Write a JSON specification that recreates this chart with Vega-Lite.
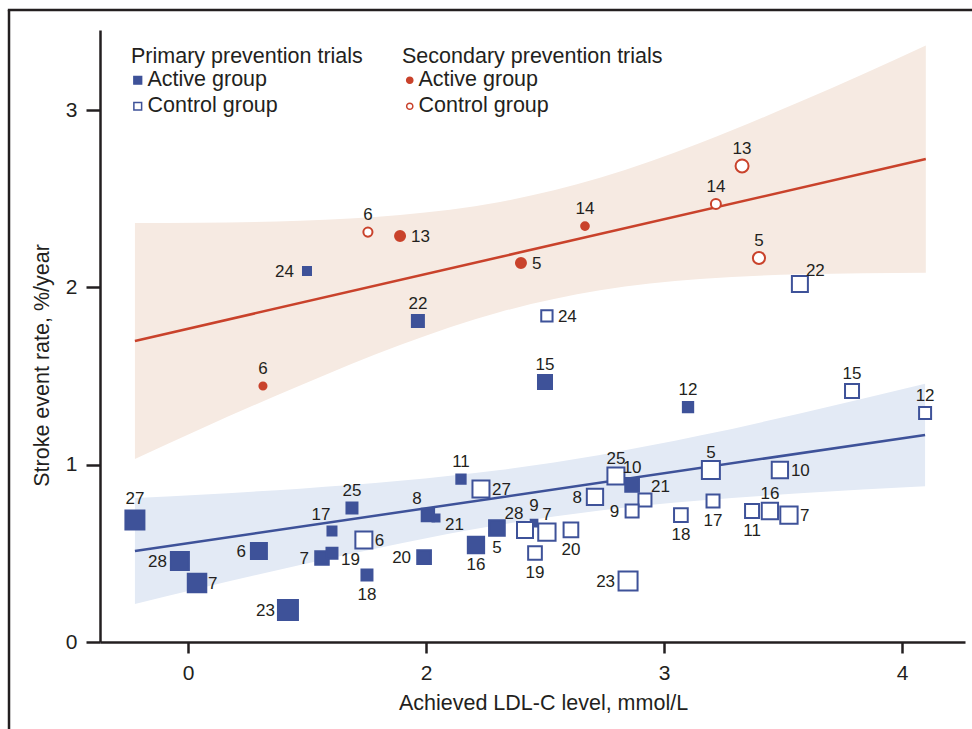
{
  "$schema": "https://vega.github.io/schema/vega-lite/v6.json",
  "width": 865,
  "height": 612,
  "autosize": {"type": "none"},
  "padding": {"left": 100, "top": 30, "right": 7, "bottom": 87},
  "background": "white",
  "config": {
    "view": {"stroke": null},
    "font": "Liberation Sans",
    "axis": {
      "domainColor": "#231f20", "domainWidth": 2.5, "tickColor": "#231f20", "tickWidth": 2.5,
      "labelFont": "Liberation Sans", "labelFontSize": 21, "labelColor": "#231f20",
      "titleFont": "Liberation Sans", "titleFontSize": 21.5, "titleFontWeight": "normal", "titleColor": "#231f20",
      "grid": false, "labelFlush": false, "labelOverlap": false, "labelBound": false
    },
    "legend": {
      "titleFont": "Liberation Sans", "titleFontSize": 21.5, "titleFontWeight": "normal", "titleColor": "#231f20",
      "labelFont": "Liberation Sans", "labelFontSize": 21.5, "labelColor": "#231f20",
      "titleLimit": 500, "labelLimit": 300, "padding": 0
    }
  },
  "datasets": {
    "pts": [
      {"trial": "6", "type": "Secondary", "arm": "Active group", "ldl": 1.315, "rate": 1.444, "w": 3.54, "pos": "t"},
      {"trial": "13", "type": "Secondary", "arm": "Active group", "ldl": 1.891, "rate": 2.290, "w": 5.0, "pos": "r"},
      {"trial": "5", "type": "Secondary", "arm": "Active group", "ldl": 2.399, "rate": 2.138, "w": 5.0, "pos": "r"},
      {"trial": "14", "type": "Secondary", "arm": "Active group", "ldl": 2.668, "rate": 2.346, "w": 3.85, "pos": "t"},
      {"trial": "6", "type": "Secondary", "arm": "Control group", "ldl": 1.756, "rate": 2.312, "w": 4.56, "pos": "t"},
      {"trial": "14", "type": "Secondary", "arm": "Control group", "ldl": 3.218, "rate": 2.470, "w": 5.0, "pos": "t"},
      {"trial": "13", "type": "Secondary", "arm": "Control group", "ldl": 3.328, "rate": 2.685, "w": 6.5, "pos": "t"},
      {"trial": "5", "type": "Secondary", "arm": "Control group", "ldl": 3.399, "rate": 2.166, "w": 6.07, "pos": "t"},
      {"trial": "27", "type": "Primary", "arm": "Active group", "ldl": 0.777, "rate": 0.688, "w": 9.5, "pos": "T"},
      {"trial": "28", "type": "Primary", "arm": "Active group", "ldl": 0.966, "rate": 0.457, "w": 9.0, "pos": "l"},
      {"trial": "7", "type": "Primary", "arm": "Active group", "ldl": 1.038, "rate": 0.333, "w": 9.25, "pos": "r"},
      {"trial": "6", "type": "Primary", "arm": "Active group", "ldl": 1.298, "rate": 0.513, "w": 8.0, "pos": "l"},
      {"trial": "23", "type": "Primary", "arm": "Active group", "ldl": 1.420, "rate": 0.180, "w": 10.0, "pos": "l"},
      {"trial": "17", "type": "Primary", "arm": "Active group", "ldl": 1.605, "rate": 0.626, "w": 4.5, "pos": "tl"},
      {"trial": "25", "type": "Primary", "arm": "Active group", "ldl": 1.689, "rate": 0.756, "w": 5.5, "pos": "t"},
      {"trial": "7", "type": "Primary", "arm": "Active group", "ldl": 1.563, "rate": 0.474, "w": 6.75, "pos": "l"},
      {"trial": "19", "type": "Primary", "arm": "Active group", "ldl": 1.605, "rate": 0.500, "w": 5.5, "pos": "br"},
      {"trial": "18", "type": "Primary", "arm": "Active group", "ldl": 1.752, "rate": 0.378, "w": 5.5, "pos": "b"},
      {"trial": "8", "type": "Primary", "arm": "Active group", "ldl": 2.008, "rate": 0.716, "w": 6.2, "pos": "tl"},
      {"trial": "21", "type": "Primary", "arm": "Active group", "ldl": 2.042, "rate": 0.699, "w": 3.5, "pos": "br"},
      {"trial": "20", "type": "Primary", "arm": "Active group", "ldl": 1.992, "rate": 0.479, "w": 6.85, "pos": "l"},
      {"trial": "11", "type": "Primary", "arm": "Active group", "ldl": 2.147, "rate": 0.919, "w": 4.65, "pos": "t"},
      {"trial": "16", "type": "Primary", "arm": "Active group", "ldl": 2.210, "rate": 0.547, "w": 8.15, "pos": "b"},
      {"trial": "5", "type": "Primary", "arm": "Active group", "ldl": 2.298, "rate": 0.643, "w": 7.85, "pos": "b"},
      {"trial": "9", "type": "Primary", "arm": "Active group", "ldl": 2.454, "rate": 0.671, "w": 3.35, "pos": "t"},
      {"trial": "10", "type": "Primary", "arm": "Active group", "ldl": 2.866, "rate": 0.886, "w": 6.85, "pos": "t"},
      {"trial": "12", "type": "Primary", "arm": "Active group", "ldl": 3.101, "rate": 1.325, "w": 5.15, "pos": "t"},
      {"trial": "15", "type": "Primary", "arm": "Active group", "ldl": 2.500, "rate": 1.466, "w": 7.0, "pos": "t"},
      {"trial": "22", "type": "Primary", "arm": "Active group", "ldl": 1.966, "rate": 1.810, "w": 6.0, "pos": "t"},
      {"trial": "24", "type": "Primary", "arm": "Active group", "ldl": 1.500, "rate": 2.093, "w": 4.0, "pos": "l"},
      {"trial": "6", "type": "Primary", "arm": "Control group", "ldl": 1.739, "rate": 0.575, "w": 8.5, "pos": "r"},
      {"trial": "27", "type": "Primary", "arm": "Control group", "ldl": 2.231, "rate": 0.863, "w": 8.5, "pos": "r"},
      {"trial": "28", "type": "Primary", "arm": "Control group", "ldl": 2.416, "rate": 0.632, "w": 8.0, "pos": "tl"},
      {"trial": "7", "type": "Primary", "arm": "Control group", "ldl": 2.508, "rate": 0.620, "w": 8.65, "pos": "t"},
      {"trial": "19", "type": "Primary", "arm": "Control group", "ldl": 2.458, "rate": 0.502, "w": 6.85, "pos": "b"},
      {"trial": "20", "type": "Primary", "arm": "Control group", "ldl": 2.609, "rate": 0.632, "w": 7.35, "pos": "b"},
      {"trial": "8", "type": "Primary", "arm": "Control group", "ldl": 2.710, "rate": 0.818, "w": 8.15, "pos": "l"},
      {"trial": "25", "type": "Primary", "arm": "Control group", "ldl": 2.798, "rate": 0.936, "w": 8.5, "pos": "t"},
      {"trial": "21", "type": "Primary", "arm": "Control group", "ldl": 2.920, "rate": 0.801, "w": 6.5, "pos": "tr"},
      {"trial": "9", "type": "Primary", "arm": "Control group", "ldl": 2.866, "rate": 0.739, "w": 6.5, "pos": "l"},
      {"trial": "23", "type": "Primary", "arm": "Control group", "ldl": 2.849, "rate": 0.344, "w": 9.5, "pos": "l"},
      {"trial": "18", "type": "Primary", "arm": "Control group", "ldl": 3.071, "rate": 0.716, "w": 6.85, "pos": "b"},
      {"trial": "17", "type": "Primary", "arm": "Control group", "ldl": 3.206, "rate": 0.795, "w": 6.5, "pos": "b"},
      {"trial": "5", "type": "Primary", "arm": "Control group", "ldl": 3.197, "rate": 0.970, "w": 9.0, "pos": "t"},
      {"trial": "11", "type": "Primary", "arm": "Control group", "ldl": 3.370, "rate": 0.739, "w": 7.0, "pos": "b"},
      {"trial": "16", "type": "Primary", "arm": "Control group", "ldl": 3.445, "rate": 0.739, "w": 8.15, "pos": "t"},
      {"trial": "7", "type": "Primary", "arm": "Control group", "ldl": 3.525, "rate": 0.716, "w": 8.65, "pos": "r"},
      {"trial": "10", "type": "Primary", "arm": "Control group", "ldl": 3.487, "rate": 0.970, "w": 8.15, "pos": "r"},
      {"trial": "24", "type": "Primary", "arm": "Control group", "ldl": 2.508, "rate": 1.839, "w": 5.65, "pos": "r"},
      {"trial": "22", "type": "Primary", "arm": "Control group", "ldl": 3.571, "rate": 2.019, "w": 8.0, "pos": "tr"},
      {"trial": "15", "type": "Primary", "arm": "Control group", "ldl": 3.790, "rate": 1.416, "w": 7.0, "pos": "t"},
      {"trial": "12", "type": "Primary", "arm": "Control group", "ldl": 4.097, "rate": 1.292, "w": 6.0, "pos": "t"}
    ],
    "bands": [
      {"grp": "Secondary", "ldl": 0.777, "lo": 1.032, "hi": 2.363},
      {"grp": "Secondary", "ldl": 1.050, "lo": 1.200, "hi": 2.365},
      {"grp": "Secondary", "ldl": 1.471, "lo": 1.447, "hi": 2.376},
      {"grp": "Secondary", "ldl": 1.891, "lo": 1.675, "hi": 2.408},
      {"grp": "Secondary", "ldl": 2.311, "lo": 1.861, "hi": 2.482},
      {"grp": "Secondary", "ldl": 2.731, "lo": 1.984, "hi": 2.618},
      {"grp": "Secondary", "ldl": 3.151, "lo": 2.047, "hi": 2.815},
      {"grp": "Secondary", "ldl": 3.571, "lo": 2.074, "hi": 3.047},
      {"grp": "Secondary", "ldl": 4.100, "lo": 2.083, "hi": 3.365},
      {"grp": "Primary", "ldl": 0.777, "lo": 0.214, "hi": 0.812},
      {"grp": "Primary", "ldl": 1.050, "lo": 0.303, "hi": 0.831},
      {"grp": "Primary", "ldl": 1.471, "lo": 0.434, "hi": 0.865},
      {"grp": "Primary", "ldl": 1.891, "lo": 0.556, "hi": 0.909},
      {"grp": "Primary", "ldl": 2.311, "lo": 0.661, "hi": 0.970},
      {"grp": "Primary", "ldl": 2.731, "lo": 0.742, "hi": 1.055},
      {"grp": "Primary", "ldl": 3.151, "lo": 0.798, "hi": 1.164},
      {"grp": "Primary", "ldl": 3.571, "lo": 0.839, "hi": 1.289},
      {"grp": "Primary", "ldl": 4.097, "lo": 0.879, "hi": 1.456}
    ],
    "fits": [
      {"grp": "Primary", "ldl": 0.777, "rate": 0.513},
      {"grp": "Primary", "ldl": 4.097, "rate": 1.168},
      {"grp": "Secondary", "ldl": 0.777, "rate": 1.698},
      {"grp": "Secondary", "ldl": 4.100, "rate": 2.724}
    ],
    "frame": [
      {"edge": "left", "ldl": 0.248, "ldl2": 0.248, "rate": -0.52, "rate2": 3.565},
      {"edge": "top", "ldl": 0.243, "ldl2": 4.33, "rate": 3.565, "rate2": 3.565}
    ]
  },
  "layer": [
    {
      "data": {"name": "bands"},
      "transform": [{"filter": "datum.grp == 'Secondary'"}],
      "mark": {"type": "area", "color": "#f6eae2", "interpolate": "monotone"},
      "encoding": {
        "x": {
          "field": "ldl", "type": "quantitative", "title": "Achieved LDL-C level, mmol/L",
          "scale": {"domain": [0.6303, 4.2647], "nice": false, "zero": false},
          "axis": {
            "values": [1, 2, 3, 4], "format": "d",
            "labelExpr": "datum.value == 1 ? '0' : datum.label",
            "tickSize": 11, "labelPadding": 9,
            "titleX": 443, "titleY": 67, "titleBaseline": "alphabetic", "titleAlign": "center"
          }
        },
        "y": {
          "field": "lo", "type": "quantitative", "title": "Stroke event rate, %/year",
          "scale": {"domain": [0, 3.4518], "nice": false, "zero": false},
          "axis": {
            "values": [0, 1, 2, 3], "format": "d",
            "tickSize": 14, "labelPadding": 9,
            "titleX": -52, "titleY": 335, "titleAngle": -90, "titleBaseline": "alphabetic", "titleAlign": "center"
          }
        },
        "y2": {"field": "hi"}
      }
    },
    {
      "data": {"name": "bands"},
      "transform": [{"filter": "datum.grp == 'Primary'"}],
      "mark": {"type": "area", "color": "#e3eaf5", "interpolate": "monotone"},
      "encoding": {
        "x": {"field": "ldl", "type": "quantitative", "title": "Achieved LDL-C level, mmol/L"},
        "y": {"field": "lo", "type": "quantitative", "title": "Stroke event rate, %/year"},
        "y2": {"field": "hi"}
      }
    },
    {
      "data": {"name": "fits"},
      "transform": [{"filter": "datum.grp == 'Secondary'"}],
      "mark": {"type": "line", "color": "#c9422b", "strokeWidth": 2.5},
      "encoding": {
        "x": {"field": "ldl", "type": "quantitative", "title": "Achieved LDL-C level, mmol/L"},
        "y": {"field": "rate", "type": "quantitative", "title": "Stroke event rate, %/year"}
      }
    },
    {
      "data": {"name": "fits"},
      "transform": [{"filter": "datum.grp == 'Primary'"}],
      "mark": {"type": "line", "color": "#3e5299", "strokeWidth": 2.5},
      "encoding": {
        "x": {"field": "ldl", "type": "quantitative", "title": "Achieved LDL-C level, mmol/L"},
        "y": {"field": "rate", "type": "quantitative", "title": "Stroke event rate, %/year"}
      }
    },
    {
      "data": {"name": "pts"},
      "transform": [{"filter": "datum.type == 'Primary'"}],
      "mark": {"type": "point", "shape": "square", "stroke": "#3e5299", "strokeWidth": 2, "opacity": 1},
      "encoding": {
        "x": {"field": "ldl", "type": "quantitative", "title": "Achieved LDL-C level, mmol/L"},
        "y": {"field": "rate", "type": "quantitative", "title": "Stroke event rate, %/year"},
        "size": {"field": "w", "type": "quantitative", "scale": {"type": "pow", "exponent": 2, "domain": [0, 10], "range": [0, 400]}, "legend": null},
        "fill": {
          "field": "arm", "type": "nominal",
          "scale": {"domain": ["Active group", "Control group"], "range": ["#3e5299", "white"]},
          "legend": {
            "title": "Primary prevention trials", "orient": "none", "legendX": 31, "legendY": 16,
            "symbolType": "square", "symbolSize": 60, "symbolStrokeColor": "#3e5299", "symbolStrokeWidth": 1.5,
            "symbolOpacity": 1, "symbolOffset": -4, "labelOffset": -1, "titlePadding": 2, "rowPadding": 3
          }
        }
      }
    },
    {
      "data": {"name": "pts"},
      "transform": [{"filter": "datum.type == 'Secondary'"}],
      "mark": {"type": "point", "shape": "circle", "stroke": "#c9422b", "strokeWidth": 2, "opacity": 1},
      "encoding": {
        "x": {"field": "ldl", "type": "quantitative", "title": "Achieved LDL-C level, mmol/L"},
        "y": {"field": "rate", "type": "quantitative", "title": "Stroke event rate, %/year"},
        "size": {"field": "w", "type": "quantitative", "legend": null},
        "fill": {
          "field": "arm", "type": "nominal",
          "scale": {"domain": ["Active group", "Control group"], "range": ["#c9422b", "white"]},
          "legend": {
            "title": "Secondary prevention trials", "orient": "none", "legendX": 302, "legendY": 16,
            "symbolType": "circle", "symbolSize": 38, "symbolStrokeColor": "#c9422b", "symbolStrokeWidth": 1.5,
            "symbolOpacity": 1, "symbolOffset": -3, "labelOffset": -2, "titlePadding": 2, "rowPadding": 3
          }
        }
      }
    },
    {
      "data": {"name": "pts"},
      "transform": [{"filter": "datum.pos == 't'"}],
      "mark": {"type": "text", "fontSize": 17, "color": "#231f20", "align": "center", "baseline": "alphabetic", "dy": -12},
      "encoding": {
        "x": {"field": "ldl", "type": "quantitative", "title": "Achieved LDL-C level, mmol/L"},
        "y": {"field": "rate", "type": "quantitative", "title": "Stroke event rate, %/year"},
        "text": {"field": "trial"}
      }
    },
    {
      "data": {"name": "pts"},
      "transform": [{"filter": "datum.pos == 'T'"}],
      "mark": {"type": "text", "fontSize": 17, "color": "#231f20", "align": "center", "baseline": "alphabetic", "dy": -16},
      "encoding": {
        "x": {"field": "ldl", "type": "quantitative", "title": "Achieved LDL-C level, mmol/L"},
        "y": {"field": "rate", "type": "quantitative", "title": "Stroke event rate, %/year"},
        "text": {"field": "trial"}
      }
    },
    {
      "data": {"name": "pts"},
      "transform": [{"filter": "datum.pos == 'tl'"}],
      "mark": {"type": "text", "fontSize": 17, "color": "#231f20", "align": "center", "baseline": "alphabetic", "dx": -11, "dy": -11},
      "encoding": {
        "x": {"field": "ldl", "type": "quantitative", "title": "Achieved LDL-C level, mmol/L"},
        "y": {"field": "rate", "type": "quantitative", "title": "Stroke event rate, %/year"},
        "text": {"field": "trial"}
      }
    },
    {
      "data": {"name": "pts"},
      "transform": [{"filter": "datum.pos == 'tr'"}],
      "mark": {"type": "text", "fontSize": 17, "color": "#231f20", "align": "left", "baseline": "alphabetic", "dx": 6, "dy": -8},
      "encoding": {
        "x": {"field": "ldl", "type": "quantitative", "title": "Achieved LDL-C level, mmol/L"},
        "y": {"field": "rate", "type": "quantitative", "title": "Stroke event rate, %/year"},
        "text": {"field": "trial"}
      }
    },
    {
      "data": {"name": "pts"},
      "transform": [{"filter": "datum.pos == 'r'"}],
      "mark": {"type": "text", "fontSize": 17, "color": "#231f20", "align": "left", "baseline": "alphabetic", "dx": 11, "dy": 6},
      "encoding": {
        "x": {"field": "ldl", "type": "quantitative", "title": "Achieved LDL-C level, mmol/L"},
        "y": {"field": "rate", "type": "quantitative", "title": "Stroke event rate, %/year"},
        "text": {"field": "trial"}
      }
    },
    {
      "data": {"name": "pts"},
      "transform": [{"filter": "datum.pos == 'br'"}],
      "mark": {"type": "text", "fontSize": 17, "color": "#231f20", "align": "left", "baseline": "alphabetic", "dx": 9, "dy": 12},
      "encoding": {
        "x": {"field": "ldl", "type": "quantitative", "title": "Achieved LDL-C level, mmol/L"},
        "y": {"field": "rate", "type": "quantitative", "title": "Stroke event rate, %/year"},
        "text": {"field": "trial"}
      }
    },
    {
      "data": {"name": "pts"},
      "transform": [{"filter": "datum.pos == 'l'"}],
      "mark": {"type": "text", "fontSize": 17, "color": "#231f20", "align": "right", "baseline": "alphabetic", "dx": -13, "dy": 6},
      "encoding": {
        "x": {"field": "ldl", "type": "quantitative", "title": "Achieved LDL-C level, mmol/L"},
        "y": {"field": "rate", "type": "quantitative", "title": "Stroke event rate, %/year"},
        "text": {"field": "trial"}
      }
    },
    {
      "data": {"name": "pts"},
      "transform": [{"filter": "datum.pos == 'b'"}],
      "mark": {"type": "text", "fontSize": 17, "color": "#231f20", "align": "center", "baseline": "alphabetic", "dy": 25},
      "encoding": {
        "x": {"field": "ldl", "type": "quantitative", "title": "Achieved LDL-C level, mmol/L"},
        "y": {"field": "rate", "type": "quantitative", "title": "Stroke event rate, %/year"},
        "text": {"field": "trial"}
      }
    },
    {
      "data": {"name": "frame"},
      "mark": {"type": "rule", "color": "#231f20", "strokeWidth": 2.5, "clip": false},
      "encoding": {
        "x": {"field": "ldl", "type": "quantitative", "title": "Achieved LDL-C level, mmol/L"},
        "x2": {"field": "ldl2"},
        "y": {"field": "rate", "type": "quantitative", "title": "Stroke event rate, %/year"},
        "y2": {"field": "rate2"}
      }
    }
  ],
  "resolve": {"scale": {"fill": "independent"}, "legend": {"fill": "independent"}}
}
